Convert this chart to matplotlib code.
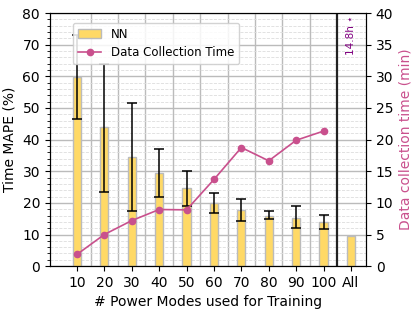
import matplotlib.pyplot as plt
import numpy as np

labels = ['10', '20', '30', '40', '50', '60', '70', '80', '90', '100', 'All']
mape = [59.9, 44.0, 34.5, 29.5, 24.7, 19.9, 17.8, 16.0, 15.3, 14.1, 9.4]
mape_hi = [73.1, 64.0, 51.5, 36.9, 30.2, 23.2, 21.2, 17.4, 18.9, 16.3]
mape_lo = [46.5, 23.5, 17.5, 22.0, 19.0, 16.7, 14.4, 14.8, 11.9, 11.6]
collect_min = [1.85, 5.0, 7.2, 8.95, 8.9, 13.7, 18.75, 16.65, 19.9, 21.35]

bar_color = '#FFD966'
line_color = '#C9508D'

x = np.arange(len(labels))
n = len(mape_hi)
err = [np.array(mape[:n]) - np.array(mape_lo), np.array(mape_hi) - np.array(mape[:n])]

fig = plt.figure(figsize=(4.15, 3.12), dpi=100)
ax = fig.add_axes([0.12, 0.147, 0.762, 0.811])
ax2 = ax.twinx()

# grid
ax.set_axisbelow(True)
ax.yaxis.grid(True, which='major', color='#bbbbbb', linewidth=1)
ax.yaxis.grid(True, which='minor', color='#dddddd', linestyle='--', linewidth=0.6)
for gx in np.arange(0.5, 9.0, 1.0):
    ax.axvline(gx, color='#bbbbbb', linewidth=1, zorder=0)
ax.axvline(9.5, color='#222222', linewidth=1.6, zorder=1)

bars = ax.bar(x, mape, width=0.3, color=bar_color, edgecolor='#bbbbbb',
              linewidth=1, label='NN', zorder=2)
ax.errorbar(x[:n], mape[:n], yerr=err, fmt='none', ecolor='black',
            elinewidth=1.1, capsize=3.5, capthick=1.1, zorder=3)

ax.set_ylim(0, 80)
ax.set_xlim(-0.99, 10.55)
ax.set_yticks(np.arange(0, 81, 10))
ax.set_yticks(np.arange(0, 81, 2), minor=True)
ax.tick_params(axis='y', which='minor', length=2)
ax.set_xticks(x)
ax.set_xticklabels(labels)
ax.tick_params(labelsize=10)
ax.set_xlabel('# Power Modes used for Training', fontsize=10)
ax.set_ylabel('Time MAPE (%)', fontsize=10)

line, = ax2.plot(x[:n], collect_min, color=line_color, marker='o',
                 markersize=4.5, linewidth=1.2, label='Data Collection Time')
ax2.set_ylim(0, 40)
ax2.set_yticks(np.arange(0, 41, 5))
ax2.tick_params(labelsize=10)
ax2.set_ylabel('Data collection time (min)', fontsize=10, color=line_color)

ax2.text(10, 39.7, '14.8h \u22c6', rotation=90, color='#800080', fontsize=7.5,
         ha='center', va='top')

ax2.legend([bars, line], ['NN', 'Data Collection Time'], loc='upper left',
           bbox_to_anchor=(0.055, 0.985), fontsize=8.5, framealpha=0.85)

fig.savefig('out.png', dpi=100)
